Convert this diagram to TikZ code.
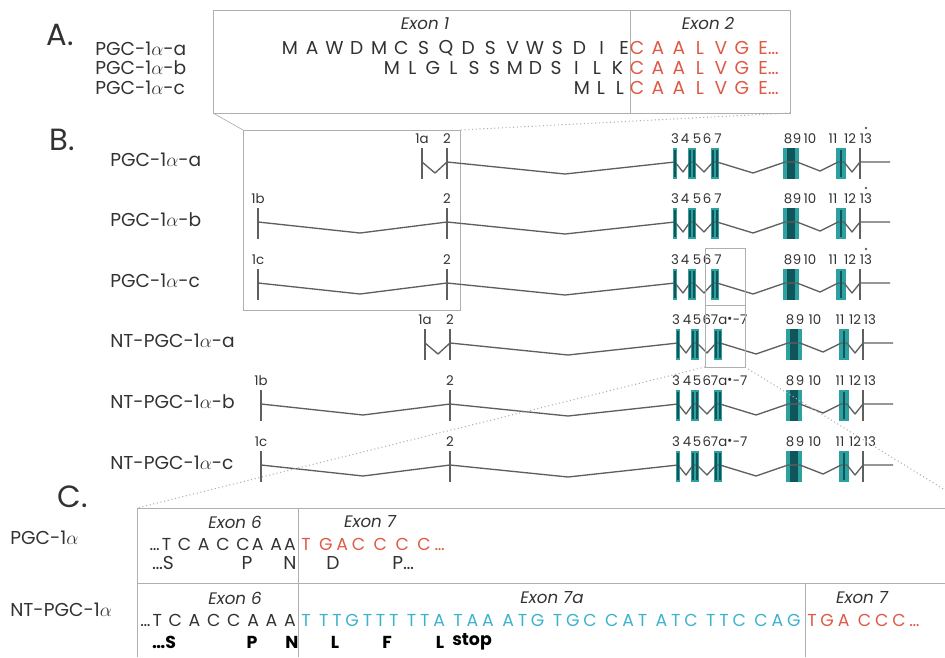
\documentclass[tikz,border=0pt]{standalone}
\usepackage{fontspec}
\setmainfont{Poppins}
\usetikzlibrary{positioning}

\definecolor{exonteal}{RGB}{45,160,160}
\definecolor{exondark}{RGB}{15,85,90}
\definecolor{seqred}{RGB}{222,90,68}
\definecolor{seqblue}{RGB}{60,178,205}
\definecolor{framegray}{RGB}{175,175,175}
\definecolor{introngray}{RGB}{95,95,95}
\definecolor{textgray}{RGB}{50,50,50}

\begin{document}
\begin{tikzpicture}[x=0.75pt, y=-0.75pt,
    panel/.style={font=\fontsize{23}{26}\selectfont, text=textgray, inner sep=0pt},
    isoform/.style={anchor=west, font=\fontsize{14}{16}\selectfont, text=textgray, inner sep=0pt},
    exonlabel/.style={font=\itshape\fontsize{12.5}{14}\selectfont, text=textgray, inner sep=0pt},
    aa/.style={font=\fontsize{14}{16}\selectfont, text=textgray, inner sep=0pt},
    aabold/.style={font=\bfseries\fontsize{13}{15}\selectfont, text=black, inner sep=0pt},
    seq/.style={font=\fontsize{13}{15}\selectfont\addfontfeature{LetterSpace=12}, inner sep=0pt},
    wideseq/.style={font=\fontsize{13}{15}\selectfont\addfontfeature{LetterSpace=22}, inner sep=0pt},
    num/.style={font=\fontsize{10}{11}\selectfont, text=textgray, inner sep=0pt},
    frame/.style={draw=framegray, line width=0.7pt},
    zoomline/.style={draw=framegray, dotted, line width=0.8pt},
    intron/.style={draw=introngray, line width=1pt, line join=round},
    tick/.style={draw=introngray, line width=1pt},
    core/.style={draw=exondark, line width=0.8pt}
]
    \useasboundingbox (0,0) rectangle (945,657);

    % Panel A: protein N-termini
    \node[panel] (labA) at (60,35) {A.};
    \node[isoform] (isoAa) at (95,49) {PGC-1$\alpha$-a};
    \node[isoform] (isoAb) at (95,68) {PGC-1$\alpha$-b};
    \node[isoform] (isoAc) at (95,88) {PGC-1$\alpha$-c};

    \coordinate (boxA-nw) at (213,10);
    \coordinate (boxA-se) at (790,113);
    \coordinate (boxA-sw) at (213,113);
    \draw[frame] (boxA-nw) rectangle (boxA-se);
    \draw[frame] (630,10) -- (630,113);
    \node[exonlabel] (exA1) at (425,24) {Exon 1};
    \node[exonlabel] (exA2) at (708,24) {Exon 2};

    \foreach \l [count=\i] in {M,A,W,D,M,C,S,Q,D,S,V,W,S,D,I,E}
        \node[aa] (aa-a\i) at ({290+22.27*(\i-1)},48) {\l};
    \foreach \l [count=\i] in {M,L,G,L,S,S,M,D,S,I,L,K}
        \node[aa] (aa-b\i) at ({392+20.5*(\i-1)},68) {\l};
    \foreach \l [count=\i] in {M,L,L}
        \node[aa] (aa-c\i) at ({582+19*(\i-1)},88) {\l};
    \foreach \ry [count=\r] in {48,68,88}{
        \foreach \l [count=\i] in {C,A,A,L,V,G}
            \node[aa, text=seqred] (red\r-\i) at ({637+21*(\i-1)},\ry) {\l};
        \node[aa, text=seqred, anchor=west] (redE\r) at (758,\ry) {E\ldots};
    }

    % Panel B: exon structure
    \node[panel] (labB) at (62,140) {B.};
    \coordinate (boxB-nw) at (243,130);
    \coordinate (boxB-ne) at (460,130);
    \draw[frame] (boxB-nw) rectangle (460,310);
    \draw[frame, line width=0.5pt] (boxA-sw) -- (boxB-nw);
    \draw[zoomline] (boxA-se) -- (boxB-ne);

    \foreach \ry/\fx/\dx/\fl/\sx/\lab [count=\r] in {
        162/422/435/1a/0/PGC-1$\alpha$-a,
        222/258/360/1b/0/PGC-1$\alpha$-b,
        283/258/360/1c/0/PGC-1$\alpha$-c,
        343/422/435/1a/3/NT-PGC-1$\alpha$-a,
        404/258/360/1b/3/NT-PGC-1$\alpha$-b,
        465/258/360/1c/3/NT-PGC-1$\alpha$-c}{
        \node[isoform] (iso\r) at (110,\ry-2) {\lab};
        \begin{scope}[shift={(\sx,0)}]
            % exon bars
            \foreach \ex in {675,690,694,713,717}
                \fill[exonteal] (\ex-1.6,\ry-14) rectangle (\ex+1.6,\ry+17);
            \fill[exonteal] (783,\ry-14) rectangle (799,\ry+17);
            \fill[exondark] (787,\ry-14) rectangle (795,\ry+17);
            \fill[exonteal] (836,\ry-14) rectangle (846,\ry+17);
            \foreach \ex in {\fx,447,860}
                \draw[tick] (\ex,\ry-14) -- (\ex,\ry+17);
            % introns
            \draw[intron] (\fx,\ry) -- (\dx,\ry+11) -- (447,\ry) -- (565,\ry+12)
                -- (675,\ry) -- (683,\ry+10) -- (690,\ry) -- (694,\ry)
                -- (704,\ry+10) -- (713,\ry) -- (717,\ry) -- (753,\ry+11)
                -- (785,\ry) -- (797,\ry) -- (820,\ry+9) -- (838,\ry)
                -- (844,\ry) -- (852,\ry+10) -- (860,\ry) -- (890,\ry);
            \foreach \ex in {675,690,694,713,717,841}
                \draw[core] (\ex,\ry-12) -- (\ex,\ry+15);
            % exon numbers
            \node[num] (first\r) at (\fx,\ry-23) {\fl};
            \node[num] (two\r) at (447,\ry-23) {2};
            \ifnum\r<4
                \foreach \n/\nx in {3/675,4/685,5/697,6/707,7/718,8/788,9/797,10/810,11/833,12/850,13/866}
                    \node[num] (num\r-\n) at (\nx,\ry-23) {\n};
                \fill[introngray] (866,\ry-34) circle (1.4);
            \else
                \foreach \n/\nx in {3/673,4/684,5/694,8/787,9/797,10/812,11/837,12/852,13/867}
                    \node[num] (num\r-\n) at (\nx,\ry-23) {\n};
                \node[num] (num\r-7a) at (722,\ry-23) {67a$^{\scriptscriptstyle\bullet}$-7};
            \fi
        \end{scope}
    }

    % zoom on exons 6-7
    \coordinate (boxZ-sw) at (705,367);
    \coordinate (boxZ-se) at (745,367);
    \draw[frame] (705,248) rectangle (boxZ-se);
    \draw[frame] (705,305) -- (745,305);

    % Panel C: exon 6/7 junction
    \node[panel] (labC) at (73,497) {C.};
    \coordinate (boxC-nw) at (137,508);
    \coordinate (boxC-e) at (945,490);
    \draw[zoomline] (boxZ-sw) -- (boxC-nw);
    \draw[zoomline] (boxZ-se) -- (boxC-e);
    \draw[frame] (945,508) -- (boxC-nw) -- (137,657);
    \draw[frame] (137,583) -- (945,583);
    \draw[frame] (298,508) -- (298,657);
    \draw[frame] (805,583) -- (805,657);

    \node[isoform] (isoC1) at (10,538) {PGC-1$\alpha$};
    \node[isoform] (isoC2) at (10,610) {NT-PGC-1$\alpha$};

    \node[exonlabel] (exC6a) at (235,522) {Exon 6};
    \node[exonlabel] (exC7a) at (370,522) {Exon 7};
    \node[seq, text=textgray, anchor=east] (seqC1) at (296,544) {\ldots T C A C CA AA};
    \node[wideseq, text=seqred, anchor=west] (seqC2) at (301,544) {T GAC C C C\ldots};
    \node[aa] (aaC1) at (163,563) {\ldots S};
    \node[aa] (aaC2) at (247,563) {P};
    \node[aa] (aaC3) at (290,563) {N};
    \node[aa] (aaC4) at (333,563) {D};
    \node[aa, anchor=west] (aaC5) at (392,563) {P\ldots};

    \node[exonlabel] (exC6b) at (235,598) {Exon 6};
    \node[exonlabel] (exC7b) at (552,598) {Exon 7a};
    \node[exonlabel] (exC7c) at (862,598) {Exon 7};
    \node[seq, text=textgray, anchor=east] (seqC3) at (296,620) {\ldots T C A C C A A A};
    \node[wideseq, text=seqblue, anchor=west] (seqC4) at (301,620) {T TTGTTT TTA TAA ATG TGC CAT ATC TTC CAG};
    \node[wideseq, text=seqred, anchor=west] (seqC5) at (807,620) {TGA CCC\ldots};
    \node[aabold] (bC1) at (164,642) {\ldots S};
    \node[aabold] (bC2) at (252,642) {P};
    \node[aabold] (bC3) at (292,642) {N};
    \node[aabold] (bC4) at (335,642) {L};
    \node[aabold] (bC5) at (387,642) {F};
    \node[aabold] (bC6) at (440,642) {L};
    \node[aabold, anchor=west] (bC7) at (452,642) {stop};
\end{tikzpicture}
\end{document}
